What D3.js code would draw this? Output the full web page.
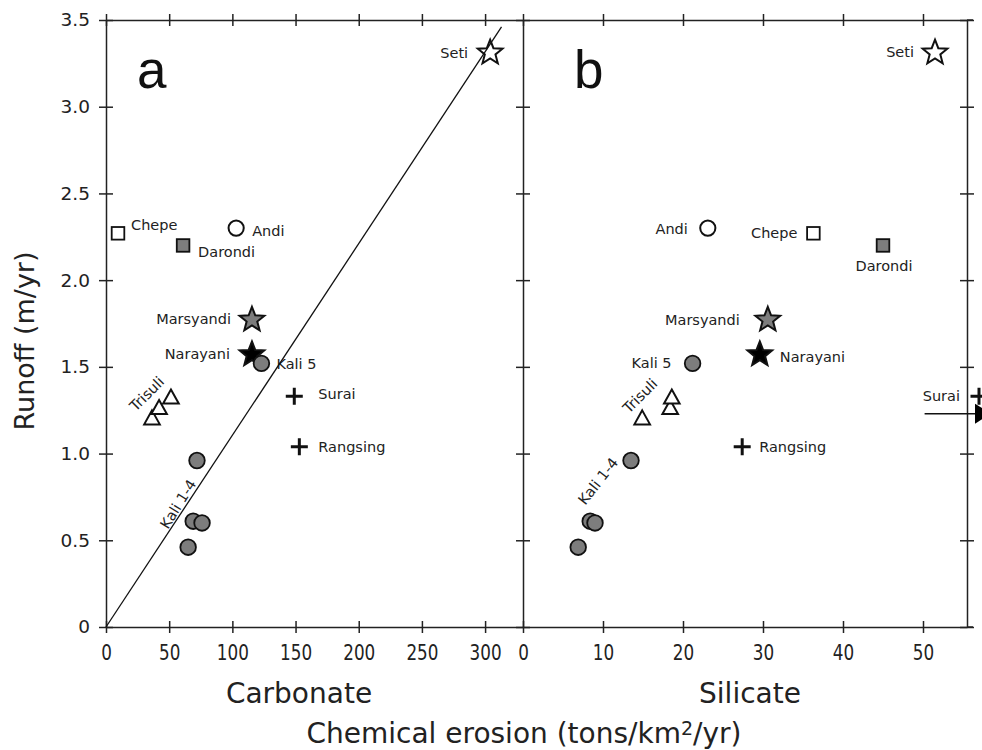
<!DOCTYPE html>
<html>
<head>
<meta charset="utf-8">
<script src="https://cdn.jsdelivr.net/npm/d3@7"></script>
<style>
  body { margin: 0; background: #fff; }
  svg { display: block; font-family: 'DejaVu Sans', sans-serif; }
  .axis path, .axis line { stroke: #222; stroke-width: 1.5; }
  .lbl { font-size: 14.5px; fill: #222; }
</style>
</head>
<body>
<script>
// river samples, same order in every array
const rivers = ['Seti', 'Chepe', 'Darondi', 'Andi', 'Marsyandi', 'Narayani', 'Kali 5', 'Surai', 'Rangsing',
  'Trisuli', 'Trisuli', 'Trisuli', 'Kali 1-4', 'Kali 1-4', 'Kali 1-4', 'Kali 1-4'];
const symbols = ['openStar', 'openSquare', 'graySquare', 'openCircle', 'grayStar', 'blackStar', 'grayCircle', 'plus', 'plus',
  'triangle', 'triangle', 'triangle', 'grayCircle', 'grayCircle', 'grayCircle', 'grayCircle'];
const runoff = [3.32, 2.27, 2.20, 2.30, 1.78, 1.58, 1.52, 1.33, 1.04, 1.20, 1.26, 1.32, 0.96, 0.61, 0.60, 0.46];
const carbonate = [304, 9.5, 61, 103, 115.5, 115.5, 123, 149, 153, 36.4, 42, 51.4, 72, 69, 76, 65];
const silicate = [51.5, 36.3, 45, 23.1, 30.6, 29.6, 21.2, 57, 27.4, 14.9, 18.4, 18.6, 13.5, 8.4, 9.0, 6.9];

// regression line in panel a
const fitCarbonate = [0, 313];
const fitRunoff = [0, 3.46];
// Surai is off scale in panel b
const suraiArrowSilicate = [50.2, 58.5];
const suraiArrowRunoff = 1.23;

const runoffTicks = [0, 0.5, 1.0, 1.5, 2.0, 2.5, 3.0, 3.5];
const carbonateTicks = [0, 50, 100, 150, 200, 250, 300];
const silicateTicks = [0, 10, 20, 30, 40, 50];

const width = 982, height = 750;
const svg = d3.select('body').append('svg')
  .attr('width', width).attr('height', height);

const y = d3.scaleLinear().domain([0, 3.5]).range([627, 20]);
const xA = d3.scaleLinear().domain([0, 330]).range([106, 523]);
const xB = d3.scaleLinear().domain([0, 55.5]).range([523, 967]);

// ---- axes ----
function crossTicks(g, dir) {
  g.selectAll('.tick line').attr(dir, dir === 'x1' || dir === 'y1' ? 7 : -7);
}

svg.append('g').attr('class', 'axis')
  .attr('transform', `translate(${xA(0)},0)`)
  .call(d3.axisLeft(y).tickValues(runoffTicks).tickSize(7).tickSizeOuter(0).tickPadding(9)
    .tickFormat(d => d === 0 ? '0' : d3.format('.1f')(d)))
  .call(g => g.selectAll('.tick line').attr('x1', 7))
  .call(g => g.selectAll('text').style('font-size', '18.5px').style('font-family', 'DejaVu Sans').attr('fill', '#222'));

svg.append('g').attr('class', 'axis')
  .attr('transform', `translate(${xB(0)},0)`)
  .call(d3.axisLeft(y).tickValues(runoffTicks).tickSize(7).tickSizeOuter(0).tickFormat(''))
  .call(g => g.selectAll('.tick line').attr('x1', 7));

svg.append('g').attr('class', 'axis')
  .attr('transform', `translate(${xB.range()[1]},0)`)
  .call(d3.axisRight(y).tickValues(runoffTicks).tickSize(7).tickSizeOuter(0).tickFormat(''))
  .call(g => g.selectAll('.tick line').attr('x1', -7));

function bottomAxis(scale, ticks) {
  svg.append('g').attr('class', 'axis')
    .attr('transform', `translate(0,${y(0)})`)
    .call(d3.axisBottom(scale).tickValues(ticks).tickSize(6).tickSizeOuter(0).tickPadding(12))
    .call(g => g.selectAll('.tick line').attr('y1', -6))
    .call(g => g.selectAll('text')
      .style('font-size', '21px').style('font-family', 'DejaVu Sans').attr('fill', '#222')
      .attr('transform', 'scale(0.8,1)'));
  svg.append('g').attr('class', 'axis')
    .attr('transform', `translate(0,${y(3.5)})`)
    .call(d3.axisTop(scale).tickValues(ticks).tickSize(6).tickSizeOuter(0).tickFormat(''))
    .call(g => g.selectAll('.tick line').attr('y1', 6));
}
bottomAxis(xA, carbonateTicks);
bottomAxis(xB, silicateTicks);

// small overhang of frame lines past the right axis
[y(0), y(3.5)].forEach(yy => {
  svg.append('line').attr('x1', xB.range()[1]).attr('x2', xB.range()[1] + 6)
    .attr('y1', yy).attr('y2', yy).attr('stroke', '#222').attr('stroke-width', 1.5);
});

// ---- titles ----
svg.append('text').attr('x', 299).attr('y', 703).attr('text-anchor', 'middle')
  .style('font-size', '28px').attr('fill', '#222').text('Carbonate');
svg.append('text').attr('x', 750).attr('y', 703).attr('text-anchor', 'middle')
  .style('font-size', '28px').attr('fill', '#222').text('Silicate');
const chem = svg.append('text').attr('x', 524).attr('y', 743).attr('text-anchor', 'middle')
  .style('font-size', '28px').attr('fill', '#222');
chem.append('tspan').text('Chemical erosion (tons/km');
chem.append('tspan').attr('dy', -8).style('font-size', '19px').text('2');
chem.append('tspan').attr('dy', 8).text('/yr)');

svg.append('text').attr('transform', 'translate(34,341) rotate(-90)').attr('text-anchor', 'middle')
  .style('font-size', '27px').attr('fill', '#222').text('Runoff (m/yr)');

svg.append('text').attr('x', 137).attr('y', 88).style('font-family', 'Liberation Sans')
  .style('font-size', '53px').attr('fill', '#111').text('a');
svg.append('text').attr('x', 574).attr('y', 88).style('font-family', 'Liberation Sans')
  .style('font-size', '53px').attr('fill', '#111').text('b');

// ---- fit line ----
const fit = fitCarbonate.map((c, i) => [c, fitRunoff[i]]);

// ---- symbols ----
function starPath(R, r) {
  const pts = [];
  for (let i = 0; i < 10; i++) {
    const a = -Math.PI / 2 + i * Math.PI / 5;
    const rr = i % 2 === 0 ? R : r;
    pts.push([rr * Math.cos(a), rr * Math.sin(a) + 1.5]);
  }
  return 'M' + pts.join('L') + 'Z';
}
function drawSymbol(g, type) {
  const stroke = '#111';
  if (type.endsWith('Star')) {
    g.append('path').attr('d', starPath(13, 5.6))
      .attr('fill', type === 'openStar' ? 'none' : type === 'grayStar' ? '#7d7d7d' : '#000')
      .attr('stroke', stroke).attr('stroke-width', 2).attr('stroke-linejoin', 'miter');
  } else if (type.endsWith('Square')) {
    g.append('rect').attr('x', -6.3).attr('y', -6.3).attr('width', 12.6).attr('height', 12.6)
      .attr('fill', type === 'openSquare' ? '#fff' : '#7d7d7d')
      .attr('stroke', stroke).attr('stroke-width', 1.8);
  } else if (type.endsWith('Circle')) {
    g.append('circle').attr('r', type === 'openCircle' ? 7.6 : 7.8)
      .attr('fill', type === 'openCircle' ? '#fff' : '#7d7d7d')
      .attr('stroke', stroke).attr('stroke-width', type === 'openCircle' ? 2 : 1.8);
  } else if (type === 'triangle') {
    g.append('path').attr('d', 'M0,-8.5L7.8,5.5L-7.8,5.5Z')
      .attr('fill', '#fff').attr('stroke', stroke).attr('stroke-width', 2);
  } else if (type === 'plus') {
    g.append('path').attr('d', 'M-8.5,0H8.5M0,-8.5V8.5')
      .attr('stroke', stroke).attr('stroke-width', 3);
  }
}

// label offsets in pixels from the point they name: [index, dx, dy, anchor, rotate]
const labelsA = [[0, -22, 2, 'end'], [1, 13, -8, 'start'], [2, 15, 7, 'start'], [3, 16, 3, 'start'],
  [4, -21, 1, 'end'], [5, -22, 1, 'end'], [6, 15, 1, 'start'], [7, 24, -2, 'start'], [8, 19, 0, 'start'],
  [9, -5, -25, 'middle', -45], [13, -15, -17, 'middle', -58]];
const labelsB = [[0, -21, 1, 'end'], [1, -16, 0, 'end'], [2, 1, 21, 'middle'], [3, -20, 1, 'end'],
  [4, -28, 2, 'end'], [5, 20, 4, 'start'], [6, -21, 0, 'end'], [7, -19, 0, 'end'], [8, 17, 0, 'start'],
  [9, -2, -23, 'middle', -45], [13, 8, -40, 'middle', -52]];

function panel(xs, values, labels, clipId) {
  const g = svg.append('g');
  const clip = svg.append('clipPath').attr('id', clipId);
  clip.append('rect').attr('x', 0).attr('y', 0).attr('width', width).attr('height', height);

  labels.forEach(([i, dx, dy, anchor, rot]) => {
    const px = xs(values[i]) + dx, py = y(runoff[i]) + dy;
    g.append('text').attr('class', 'lbl')
      .attr('text-anchor', anchor).attr('dominant-baseline', 'central')
      .attr('transform', `translate(${px},${py})` + (rot ? ` rotate(${rot})` : ''))
      .text(rivers[i]);
  });

  values.forEach((v, i) => {
    const s = g.append('g').attr('transform', `translate(${xs(v)},${y(runoff[i])})`);
    drawSymbol(s, symbols[i]);
  });
  return g;
}

const gA = panel(xA, carbonate, labelsA, 'clipA');
gA.append('path')
  .attr('d', d3.line().x(d => xA(d[0])).y(d => y(d[1]))(fit))
  .attr('fill', 'none').attr('stroke', '#111').attr('stroke-width', 1.3);

const gB = panel(xB, silicate, labelsB, 'clipB');
const ay = y(suraiArrowRunoff);
gB.append('line')
  .attr('x1', xB(suraiArrowSilicate[0])).attr('x2', xB(suraiArrowSilicate[1]) - 8)
  .attr('y1', ay).attr('y2', ay).attr('stroke', '#111').attr('stroke-width', 1.6);
gB.append('path')
  .attr('d', `M${xB(suraiArrowSilicate[1]) - 16},${ay - 10}L${xB(suraiArrowSilicate[1])},${ay}L${xB(suraiArrowSilicate[1]) - 16},${ay + 10}Z`)
  .attr('fill', '#000');
</script>
</body>
</html>
